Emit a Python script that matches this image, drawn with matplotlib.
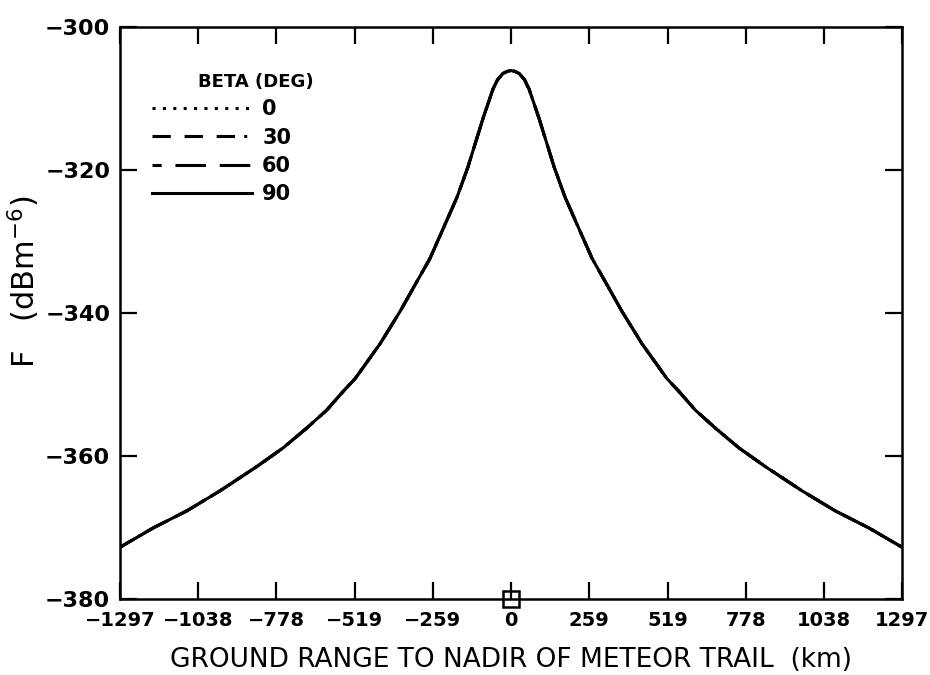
import numpy as np
import matplotlib
matplotlib.use("Agg")
import matplotlib.pyplot as plt

# values (all four beta curves coincide)
ground_range = [-1297, -1187, -1075, -965, -843, -756, -677, -611, -557, -517,
                -434, -368, -312, -269, -226, -179, -143, -93, -60, -45, -27,
                -12, 0,
                12, 27, 45, 60, 93, 143, 179, 226, 269, 312, 368, 434, 517,
                557, 611, 677, 756, 843, 965, 1075, 1187, 1297]
f_dbm = [-372.8, -370.1, -367.7, -364.9, -361.5, -358.9, -356.1, -353.6, -351.0,
         -349.2, -344.3, -339.8, -335.6, -332.4, -328.3, -323.8, -319.6, -312.8,
         -308.7, -307.4, -306.5, -306.2, -306.1,
         -306.2, -306.5, -307.4, -308.7, -312.8, -319.6, -323.8, -328.3, -332.4,
         -335.6, -339.8, -344.3, -349.2, -351.0, -353.6, -356.1, -358.9, -361.5,
         -364.9, -367.7, -370.1, -372.8]
beta_labels = ["0", "30", "60", "90"]
beta_styles = [(0, (1.0, 2.4)), (0, (6, 4.5, 6, 4.5, 6, 3, 1, 3)),
               (0, (3, 4.5, 10, 4.5, 7, 0)), "-"]
x_ticks = [-1297, -1038, -778, -519, -259, 0, 259, 519, 778, 1038, 1297]
y_ticks = [-380, -360, -340, -320, -300]

plt.rcParams["font.family"] = "DejaVu Sans"

fig = plt.figure(figsize=(9.3, 6.75), dpi=100)
ax = fig.add_axes([0.129, 0.113, 0.841, 0.847])

handles = []
for lab, ls in zip(beta_labels, beta_styles):
    (h,) = ax.plot(ground_range, f_dbm, color="black", linewidth=2.2,
                   linestyle=ls, label=lab)
    handles.append(h)

# little square marker on the axis at nadir
ax.plot([0], [-380], marker="s", markersize=11, markerfacecolor="none",
        markeredgecolor="black", markeredgewidth=1.8, clip_on=False,
        zorder=5)

ax.set_xlim(-1297, 1297)
ax.set_ylim(-380, -300)
ax.set_xticks(x_ticks)
ax.set_xticklabels([str(t).replace("-", "\u2212") for t in x_ticks],
                   fontsize=14, fontweight="bold")
ax.set_yticks(y_ticks)
ax.set_yticklabels([str(t).replace("-", "\u2212") for t in y_ticks],
                   fontsize=16, fontweight="bold")
ax.tick_params(direction="in", length=12, width=1.6, top=True, right=True)
ax.tick_params(axis="x", pad=9)
ax.tick_params(axis="y", pad=7)
for sp in ax.spines.values():
    sp.set_linewidth(1.8)

ax.set_xlabel("GROUND RANGE TO NADIR OF METEOR TRAIL  (km)", fontsize=19,
              labelpad=12)
ax.set_ylabel("F   (dBm$^{-6}$)", fontsize=22)
ax.yaxis.set_label_coords(-0.1, 0.555)

leg = ax.legend(handles=handles, loc="upper left", frameon=False,
                fontsize=15, handlelength=4.8, handletextpad=0.5,
                labelspacing=0.4, borderaxespad=0,
                bbox_to_anchor=(0.03, 0.888))
for t in leg.get_texts():
    t.set_fontweight("bold")
ax.text(0.174, 0.903, "BETA (DEG)", transform=ax.transAxes, fontsize=13,
        fontweight="bold", ha="center", va="center")

fig.savefig("out.png", dpi=100, facecolor="white")
